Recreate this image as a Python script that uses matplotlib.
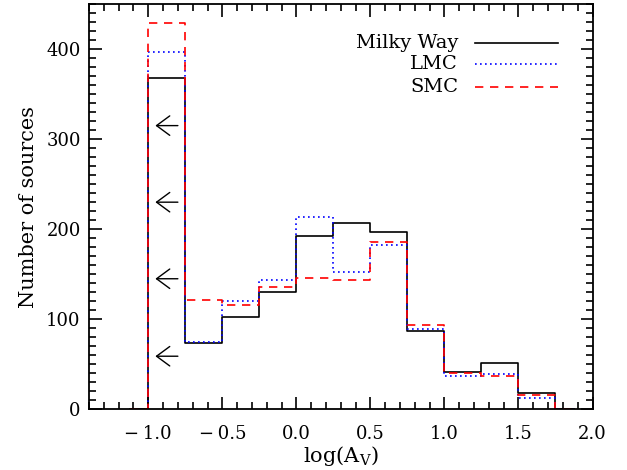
import numpy as np
from matplotlib import pyplot as plt

# bin centres of log(A_V) histogram (width 0.25), drawn IDL psym=10 style
centres = [-1.125, -0.875, -0.625, -0.375, -0.125, 0.125, 0.375,
           0.625, 0.875, 1.125, 1.375, 1.625, 1.875]
milky_way = [0, 368, 74, 102, 130, 192, 207, 197, 87, 42, 51, 18, 0]
lmc = [0, 397, 75, 120, 144, 214, 153, 182, 89, 37, 39, 13, 0]
smc = [0, 429, 121, 116, 136, 146, 144, 186, 94, 40, 37, 16, 0]

# upper-limit arrows in the first bin
arrow_y = [315, 230, 145, 59]
arrow_x0 = -0.80
arrow_x1 = -0.952

labels = ["Milky Way", "LMC", "SMC"]

plt.rcParams['font.family'] = 'DejaVu Serif'
plt.rcParams['mathtext.fontset'] = 'dejavuserif'

fig = plt.figure(figsize=(6.27, 4.70), dpi=100)
ax = fig.add_axes([0.142, 0.129, 0.803, 0.8625])

ax.step(centres, milky_way, where='mid', color='black', lw=1.2, ls='-')
ax.step(centres, lmc, where='mid', color='blue', lw=1.2, ls=(0, (1, 2)))
ax.step(centres, smc, where='mid', color='red', lw=1.2, ls=(0, (5, 4)))

for y in arrow_y:
    ax.annotate('', xy=(arrow_x1, y), xytext=(arrow_x0, y),
                arrowprops=dict(arrowstyle='->,head_length=0.95,head_width=0.7',
                                mutation_scale=10, shrinkA=0, shrinkB=0,
                                color='black', lw=1.0))

# legend, text right-aligned left of the line sample
styles = [('black', '-'), ('blue', (0, (1, 2))), ('red', (0, (5, 4)))]
rows = [0.9045, 0.851, 0.796]
for lab, (c, ls), yy in zip(labels, styles, rows):
    ax.plot([0.766, 0.931], [yy, yy], color=c, ls=ls, lw=1.2,
            transform=ax.transAxes)
    ax.text(0.733, yy, lab, ha='right', va='center', fontsize=14,
            transform=ax.transAxes)

ax.set_xlim(-1.4, 2.0)
ax.set_ylim(0, 450)
ax.set_xticks(np.arange(-1.0, 2.01, 0.5))
ax.set_xticks(np.arange(-1.4, 2.01, 0.1), minor=True)
ax.set_yticks(np.arange(0, 401, 100))
ax.set_yticks(np.arange(0, 451, 10), minor=True)
ax.set_xticklabels(['\u2212\u20091.0', '\u2212\u20090.5', '0.0', '0.5',
                    '1.0', '1.5', '2.0'])
ax.tick_params(which='both', direction='in', top=True, right=True,
               labelsize=13, width=1.2)
ax.tick_params(which='major', length=9, pad=6)
ax.tick_params(axis='x', which='major', pad=11)
ax.tick_params(which='minor', length=5)
for s in ax.spines.values():
    s.set_linewidth(1.3)

ax.set_xlabel(r'log(A$_\mathregular{V}$)', fontsize=15, labelpad=1)
ax.set_ylabel('Number of sources', fontsize=15, labelpad=6)

fig.savefig('out.png', dpi=100)
